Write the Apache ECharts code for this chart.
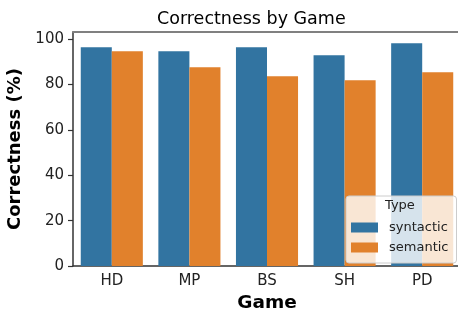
<!DOCTYPE html>
<html lang="en">
<head>
    <meta charset="UTF-8">
    <title>Correctness by Game</title>
    <script src="https://cdn.jsdelivr.net/npm/echarts@6/dist/echarts.min.js"></script>
    <style>
        html, body { margin: 0; padding: 0; background: #fff; }
        #main { width: 458px; height: 315px; }
    </style>
</head>
<body>
<div id="main"></div>
<script>
    // data
    var games = ['HD', 'MP', 'BS', 'SH', 'PD'];
    var syntactic = [96.5, 94.7, 96.5, 92.9, 98.2];
    var semantic = [94.7, 87.6, 83.7, 81.9, 85.4];
    var yTicks = [0, 20, 40, 60, 80, 100];

    var font = 'DejaVu Sans';
    var blue = '#3274a1';
    var orange = '#e1812c';

    var myChart = echarts.init(document.getElementById('main'));

    var option = {
        animation: false,
        title: {
            text: 'Correctness by Game',
            left: 152,
            top: 5,
            textStyle: { fontFamily: font, fontSize: 17.5, fontWeight: 'normal', color: '#000' }
        },
        // plot area sits at fixed pixels, the right edge is cut like in the source image
        grid: { left: 73, right: -3, top: 32, bottom: 49, outerBoundsMode: 'none', containLabel: false },
        legend: {
            data: ['syntactic', 'semantic'],
            orient: 'vertical',
            left: 346,
            top: 196,
            padding: [25, 8, 9, 5],
            itemWidth: 27,
            itemHeight: 10,
            itemGap: 7,
            icon: 'rect',
            backgroundColor: 'rgba(255,255,255,0.8)',
            borderColor: '#cccccc',
            borderWidth: 1,
            borderRadius: 3,
            z: 10,
            textStyle: { fontFamily: font, fontSize: 13, color: '#222', padding: [0, 0, 0, 6] }
        },
        graphic: [{
            type: 'text',
            left: 385,
            top: 199,
            z: 100,
            style: { text: 'Type', fontFamily: font, fontSize: 13, fill: '#222' }
        }],
        xAxis: [{
            type: 'category',
            data: games,
            name: 'Game',
            nameLocation: 'middle',
            nameGap: 28,
            nameTextStyle: { fontFamily: font, fontSize: 18.5, fontWeight: 'bold', color: '#000' },
            axisLine: { lineStyle: { color: '#333', width: 1.5 } },
            axisTick: { alignWithLabel: true, length: 5, lineStyle: { color: '#333', width: 1.2 } },
            axisLabel: { fontFamily: font, fontSize: 15, color: '#222', margin: 8 }
        }, {
            // grey top spine
            type: 'category',
            data: games,
            position: 'top',
            axisLine: { lineStyle: { color: '#808080', width: 2 } },
            axisTick: { show: false },
            axisLabel: { show: false }
        }],
        yAxis: {
            type: 'value',
            min: 0,
            max: 103.2,
            interval: 20,
            name: 'Correctness (%)',
            nameLocation: 'middle',
            nameGap: 42,
            nameTextStyle: { fontFamily: font, fontSize: 18, fontWeight: 'bold', color: '#000' },
            splitLine: { show: false },
            axisLine: { show: true, lineStyle: { color: '#333', width: 1.5 } },
            axisTick: { show: true, length: 5, customValues: yTicks, lineStyle: { color: '#333', width: 1.2 } },
            axisLabel: { fontFamily: font, fontSize: 15, color: '#222', margin: 9, customValues: yTicks }
        },
        series: [{
            name: 'syntactic',
            type: 'bar',
            data: syntactic,
            barGap: '0%',
            barCategoryGap: '20%',
            itemStyle: { color: blue }
        }, {
            name: 'semantic',
            type: 'bar',
            data: semantic,
            barGap: '0%',
            barCategoryGap: '20%',
            itemStyle: { color: orange }
        }]
    };

    myChart.setOption(option, true);
</script>
</body>
</html>
